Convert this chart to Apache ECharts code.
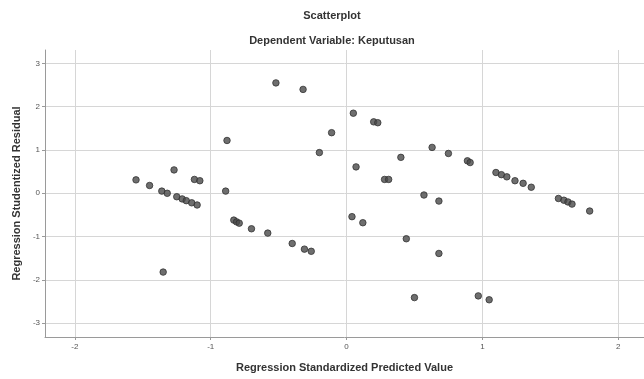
<!DOCTYPE html>
<html>
<head>
<meta charset="utf-8">
<title>Scatterplot</title>
<script src="https://cdn.jsdelivr.net/npm/echarts@6/dist/echarts.min.js"></script>
<style>
  html, body { margin: 0; padding: 0; background: #fff; }
  #chart { width: 644px; height: 379px; }
</style>
</head>
<body>
<div id="chart"></div>
<script>
// regression standardized predicted value (x) vs studentized residual (y)
const predicted = [
  -1.55, -1.45, -1.27, -1.36, -1.32, -1.25, -1.21, -1.18, -1.14, -1.10,
  -1.12, -1.08, -1.35, -0.89, -0.88, -0.83, -0.81, -0.79, -0.70, -0.58,
  -0.40, -0.31, -0.26, -0.52, -0.32, -0.20, -0.11, 0.05, 0.07, 0.04,
  0.12, 0.20, 0.23, 0.28, 0.31, 0.40, 0.44, 0.50, 0.57, 0.63,
  0.68, 0.68, 0.75, 0.89, 0.91, 0.97, 1.05, 1.10, 1.14, 1.18,
  1.24, 1.30, 1.36, 1.56, 1.60, 1.63, 1.66, 1.79
];
const residual = [
  0.31, 0.18, 0.54, 0.05, 0.00, -0.08, -0.13, -0.17, -0.22, -0.27,
  0.32, 0.29, -1.82, 0.05, 1.22, -0.62, -0.66, -0.69, -0.82, -0.92,
  -1.16, -1.29, -1.34, 2.55, 2.40, 0.94, 1.40, 1.85, 0.61, -0.54,
  -0.68, 1.65, 1.63, 0.32, 0.32, 0.83, -1.05, -2.41, -0.04, 1.06,
  -0.18, -1.39, 0.92, 0.75, 0.71, -2.37, -2.46, 0.48, 0.43, 0.38,
  0.29, 0.23, 0.14, -0.12, -0.16, -0.20, -0.25, -0.41
];

const points = predicted.map((x, i) => [x, residual[i]]);

const chart = echarts.init(document.getElementById('chart'));

const axisCommon = {
    axisLine: { show: true, onZero: false, lineStyle: { color: '#9a9a9a', width: 1 } },
    axisTick: { show: true, length: 3, lineStyle: { color: '#9a9a9a' } },
    splitLine: {
        show: true,
        showMinLine: false,
        showMaxLine: false,
        lineStyle: { color: '#d6d6d6', width: 1 },
    },
    nameLocation: 'middle',
    nameTextStyle: {
        fontFamily: 'Liberation Sans',
        fontSize: 11,
        fontWeight: 'bold',
        color: '#333',
    },
};

chart.setOption({
    animation: false,
    textStyle: { fontFamily: 'Liberation Sans' },
    title: [
        {
            text: 'Scatterplot',
            left: 327,
            top: 5,
            textAlign: 'center',
            textStyle: { fontSize: 11, fontWeight: 'bold', color: '#333' },
        },
        {
            text: 'Dependent Variable: Keputusan',
            left: 327,
            top: 30,
            textAlign: 'center',
            textStyle: { fontSize: 11, fontWeight: 'bold', color: '#333' },
        },
    ],
    grid: { left: 45, right: 0, top: 50, bottom: 42 },
    xAxis: {
        ...axisCommon,
        type: 'value',
        min: -2.22,
        max: 2.19,
        splitNumber: 5,
        name: 'Regression Standardized Predicted Value',
        nameGap: 25,
        axisLabel: {
            showMinLabel: false,
            showMaxLabel: false,
            fontSize: 8,
            color: '#555',
            margin: 6,
        },
    },
    yAxis: {
        ...axisCommon,
        type: 'value',
        min: -3.32,
        max: 3.31,
        splitNumber: 6,
        name: 'Regression Studentized Residual',
        nameGap: 22,
        axisLabel: {
            showMinLabel: false,
            showMaxLabel: false,
            fontSize: 8,
            color: '#555',
            margin: 5,
        },
    },
    series: [
        {
            type: 'scatter',
            data: points,
            symbol: 'circle',
            symbolSize: 6.5,
            itemStyle: { color: '#4a4a4a', borderColor: '#333', borderWidth: 1 },
        },
    ],
});
</script>
</body>
</html>
